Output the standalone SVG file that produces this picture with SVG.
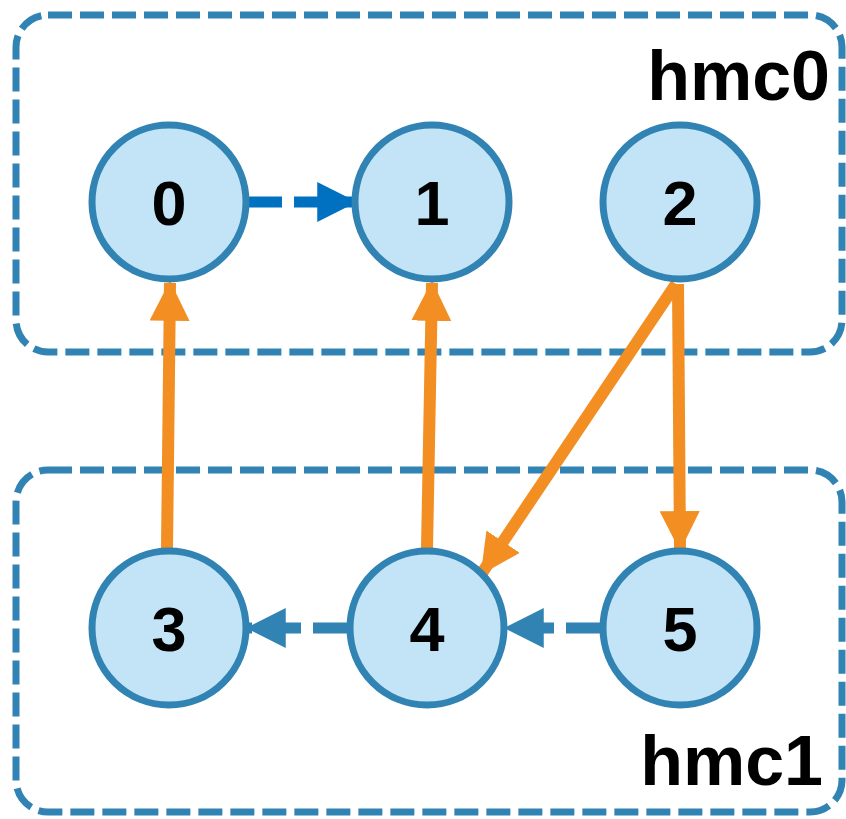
<svg xmlns="http://www.w3.org/2000/svg" width="846" height="819" viewBox="0 0 846 819">
  <style>
    .box { fill: none; stroke: #3083b2; stroke-width: 7; stroke-dasharray: 24 8; }
    .node circle { fill: #c2e4f6; stroke: #3083b2; stroke-width: 7; }
    .node text { font-family: "Liberation Sans", Arial, sans-serif; font-weight: bold; font-size: 63px; text-anchor: middle; fill: #000; }
    .label { font-family: "Liberation Sans", Arial, sans-serif; font-weight: bold; font-size: 70px; text-anchor: end; fill: #000; }
    .orange { stroke: #f28e22; stroke-width: 12; fill: none; }
    .dash-blue { stroke: #0070c0; stroke-width: 11; stroke-dasharray: 35 12; fill: none; }
    .dash-steel { stroke: #3083b2; stroke-width: 11; stroke-dasharray: 37 12; fill: none; }
  </style>
  <defs>
    <marker id="ah-orange" markerUnits="userSpaceOnUse" markerWidth="40" markerHeight="40" viewBox="0 0 36 36" refX="34" refY="18" orient="auto">
      <path d="M0,0 L36,18 L0,36 Z" fill="#f28e22"/>
    </marker>
    <marker id="ah-blue" markerUnits="userSpaceOnUse" markerWidth="40" markerHeight="40" viewBox="0 0 36 36" refX="34" refY="18" orient="auto">
      <path d="M0,0 L36,18 L0,36 Z" fill="#0070c0"/>
    </marker>
    <marker id="ah-steel" markerUnits="userSpaceOnUse" markerWidth="40" markerHeight="40" viewBox="0 0 36 36" refX="34" refY="18" orient="auto">
      <path d="M0,0 L36,18 L0,36 Z" fill="#3083b2"/>
    </marker>
  </defs>

  <!-- group boxes -->
  <g id="hmc0">
    <rect class="box" x="16" y="15" width="826" height="337" rx="32"/>
    <text class="label" x="830" y="100">hmc0</text>
  </g>
  <g id="hmc1">
    <rect class="box" x="16" y="470" width="826" height="342" rx="32"/>
    <text class="label" x="823" y="785">hmc1</text>
  </g>

  <!-- connectors -->
  <g id="edges">
    <line class="dash-blue" x1="247" y1="202" x2="355" y2="202" marker-end="url(#ah-blue)"/>
    <line class="dash-steel" x1="350" y1="628" x2="248" y2="628" marker-end="url(#ah-steel)"/>
    <line class="dash-steel" x1="603" y1="628" x2="506" y2="628" marker-end="url(#ah-steel)"/>
    <line class="orange" x1="167" y1="549" x2="170" y2="283" marker-end="url(#ah-orange)"/>
    <line class="orange" x1="427" y1="549" x2="432" y2="283" marker-end="url(#ah-orange)"/>
    <line class="orange" x1="676" y1="284" x2="482" y2="573" marker-end="url(#ah-orange)"/>
    <line class="orange" x1="678" y1="284" x2="680" y2="549" marker-end="url(#ah-orange)"/>
  </g>

  <!-- nodes -->
  <g id="n0" class="node"><circle cx="169" cy="202" r="77"/><text x="169" y="225">0</text></g>
  <g id="n1" class="node"><circle cx="432" cy="202" r="77"/><text x="432" y="225">1</text></g>
  <g id="n2" class="node"><circle cx="680" cy="202" r="77"/><text x="680" y="225">2</text></g>
  <g id="n3" class="node"><circle cx="169" cy="628" r="77"/><text x="169" y="651">3</text></g>
  <g id="n4" class="node"><circle cx="427" cy="628" r="77"/><text x="427" y="651">4</text></g>
  <g id="n5" class="node"><circle cx="680" cy="628" r="77"/><text x="680" y="651">5</text></g>
</svg>
